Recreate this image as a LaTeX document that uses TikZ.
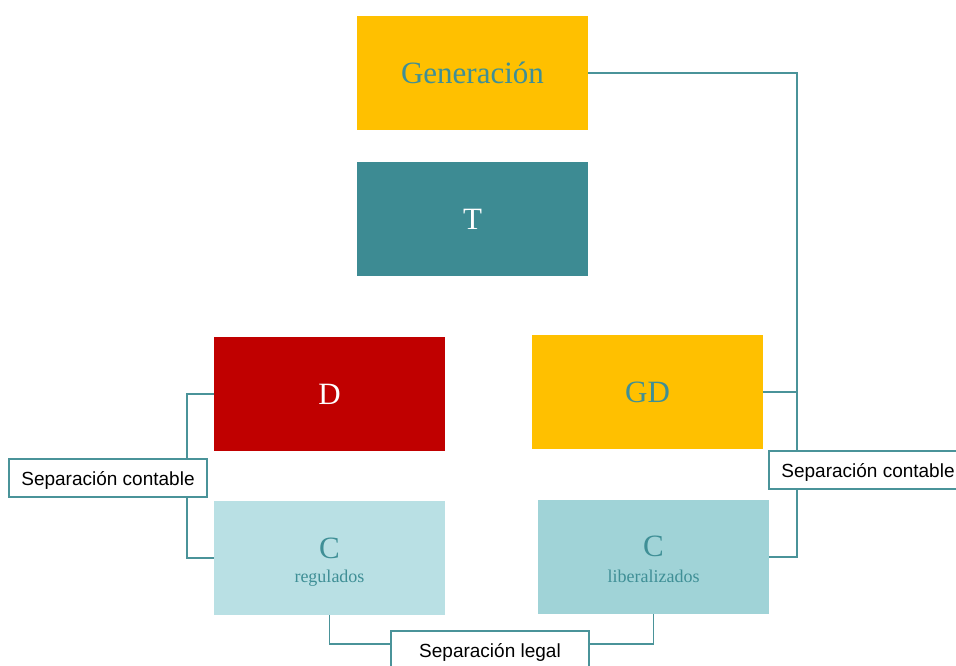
\documentclass[tikz,border=0pt]{standalone}
\usepackage{fontspec}
\setmainfont{Liberation Serif}
\newfontfamily\labelfont{Liberation Sans}
\definecolor{amber}{HTML}{FFC000}
\definecolor{tealbox}{HTML}{3D8B93}
\definecolor{tealtxt}{HTML}{3F8F96}
\definecolor{redbox}{HTML}{C00000}
\definecolor{lightc}{HTML}{B9E0E4}
\definecolor{midc}{HTML}{A0D3D7}
\definecolor{linec}{HTML}{4A9399}
\tikzset{
  box/.style={rectangle, minimum width=231pt, minimum height=114pt, inner sep=0pt, font=\fontsize{31}{36}\selectfont},
  seplabel/.style={rectangle, draw=linec, line width=1.5pt, fill=white, minimum width=198pt, minimum height=38pt, inner sep=0pt, text height=14pt, text depth=0pt, font=\labelfont\fontsize{19}{22}\selectfont, text=black},
  conn/.style={draw=linec, line width=1.6pt},
  small/.style={font=\fontsize{18}{21}\selectfont, text=tealtxt, inner sep=0pt},
  big/.style={font=\fontsize{31}{36}\selectfont, text=tealtxt, inner sep=0pt}
}
\begin{document}
\begin{tikzpicture}[x=1pt,y=-1pt]
\useasboundingbox (0,0) rectangle (956,666);
\clip (0,0) rectangle (956,666);
\node[box, fill=amber, text=tealtxt] (gen) at (472.5,73) {Generación};
\node[box, fill=tealbox, text=white] (t) at (472.5,219) {T};
\node[box, fill=redbox, text=white] (d) at (329.5,394) {D};
\node[box, fill=amber, text=tealtxt] (gd) at (647.5,392) {GD};
\node[box, fill=lightc] (creg) at (329.5,558) {};
\node[box, fill=midc] (clib) at (653.5,557) {};
\node[big] (cregc) at (329.5,548) {C};
\node[small] (cregt) at (329.5,578) {regulados};
\node[big] (clibc) at (653.5,546) {C};
\node[small] (clibt) at (653.5,576) {liberalizados};
\node[seplabel] (sepl) at (108,478) {Separación contable};
\node[seplabel] (sepr) at (868,470) {Separación contable};
\node[seplabel] (sepg) at (490,650) {Separación legal};
\coordinate (rt) at ([xshift=29pt]sepr.north west);
\coordinate (rb) at ([xshift=29pt]sepr.south west);
\coordinate (lt) at ([xshift=-21pt]sepl.north east);
\coordinate (lb) at ([xshift=-21pt]sepl.south east);
\coordinate (gl) at ([yshift=6pt]sepg.west);
\coordinate (gr) at ([yshift=6pt]sepg.east);
\draw[conn] (gen.east) -| (rt);
\draw[conn] (gd.east) -- (gd.east -| rt);
\draw[conn] (rb) |- (clib.east);
\draw[conn] (d.west) -| (lt);
\draw[conn] (lb) |- (creg.west);
\draw[conn] (creg.south) |- (gl);
\draw[conn] (gr) -| (clib.south);
\end{tikzpicture}
\end{document}
